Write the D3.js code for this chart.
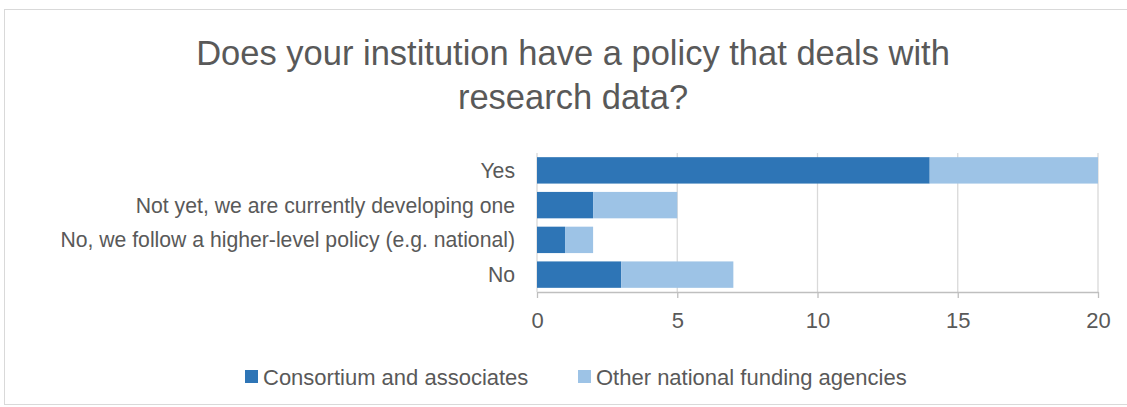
<!DOCTYPE html>
<html><head><meta charset="utf-8">
<script src="https://cdn.jsdelivr.net/npm/d3@7"></script>
<style>body{margin:0;background:#fff;} svg{display:block;} text{font-family:"Liberation Sans",Arial,sans-serif;fill:#595959;}</style>
</head><body><svg id="c" width="1127" height="407"></svg>
<script>
const categories = ["Yes","Not yet, we are currently developing one","No, we follow a higher-level policy (e.g. national)","No"];
const consortium = [14,2,1,3];
const otherAgencies = [6,3,1,4];
const seriesNames = ["Consortium and associates","Other national funding agencies"];
const colors = ["#2E75B6","#9DC3E6"];
const xTicks = [0,5,10,15,20];
const titleLines = ["Does your institution have a policy that deals with","research data?"];

const svg = d3.select("#c");
svg.append("rect").attr("x",4.5).attr("y",9.5).attr("width",1130).attr("height",395).attr("fill","#fff").attr("stroke","#d9d9d9");

const x = d3.scaleLinear().domain([0,20]).range([537,1098]);
const y = d3.scaleBand().domain(categories).range([153,292]).paddingInner(0.24).paddingOuter(0.12);

svg.append("g").selectAll("line").data(xTicks).join("line")
  .attr("x1",d=>x(d)).attr("x2",d=>x(d)).attr("y1",153).attr("y2",292)
  .attr("stroke","#d9d9d9").attr("stroke-width",1.3);

const rows = categories.map((c,i)=>({c, v:[consortium[i],otherAgencies[i]]}));
const stack = d3.stack().keys([0,1]).value((d,k)=>d.v[k])(rows);
svg.append("g").selectAll("g").data(stack).join("g").attr("fill",(d,i)=>colors[i])
  .selectAll("rect").data(d=>d).join("rect")
  .attr("x",d=>x(d[0])).attr("width",d=>x(d[1])-x(d[0]))
  .attr("y",d=>y(d.data.c)).attr("height",y.bandwidth());

const ax = svg.append("g").attr("transform","translate(0,292)")
  .call(d3.axisBottom(x).tickValues(xTicks).tickSize(6).tickSizeOuter(0).tickPadding(14));
ax.select(".domain").attr("stroke","#bfbfbf").attr("stroke-width",1.3);
ax.selectAll(".tick line").attr("stroke","#bfbfbf").attr("stroke-width",1.3);
ax.selectAll("text").attr("font-size",22).style("fill","#595959").attr("font-family",null);

svg.append("g").selectAll("text").data(categories).join("text")
  .attr("x",515).attr("y",d=>y(d)+y.bandwidth()/2).attr("dy","0.35em")
  .attr("text-anchor","end").attr("font-size",21.2).text(d=>d);

svg.append("g").selectAll("text").data(titleLines).join("text")
  .attr("x",573).attr("y",(d,i)=>65+i*44).attr("text-anchor","middle")
  .attr("font-size",34.5).text(d=>d);

const leg = svg.append("g").selectAll("g").data(seriesNames).join("g")
  .attr("transform",(d,i)=>`translate(${[245,578][i]},370)`);
leg.append("rect").attr("width",13).attr("height",13).attr("fill",(d,i)=>colors[i]);
leg.append("text").attr("x",18).attr("y",7).attr("dy","0.35em").attr("font-size",22).text(d=>d);
</script></body></html>
